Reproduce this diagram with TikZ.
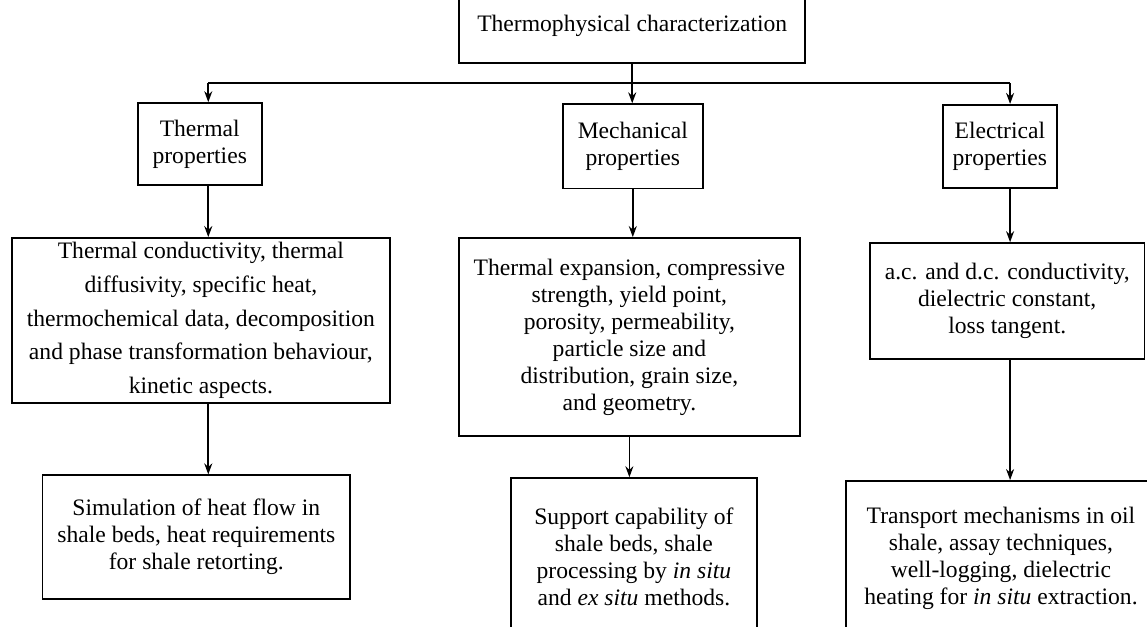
\documentclass[tikz,border=0pt]{standalone}
\usepackage{fontspec}
\setmainfont{Liberation Serif}
\usepackage{tikz}
\usetikzlibrary{arrows.meta, calc}
\tikzset{
  box/.style   = {rectangle, draw, line width=0.8pt, align=center, inner sep=2pt,
                  font=\fontsize{11.8}{13.5}\selectfont},
  boxW/.style  = {box, font=\fontsize{11.8}{16.85}\selectfont},
  arrow/.style = {line width=0.8pt, -{Stealth[length=5.5pt, width=4pt]}},
}

\begin{document}
\begin{tikzpicture}

    %% Frame of the page
    \useasboundingbox (0,0) rectangle (20.156,-11.001);
    \clip (0,0) rectangle (20.156,-11.001);

    %% Top box (its upper edge is cut off)
    \node[box, draw=none, minimum width=6.05cm, minimum height=1.27cm] (top) at (11.11,-0.46) {Thermophysical characterization};
    \draw[line width=0.8pt] (top.north west) -- (top.south west) -- (top.south east) -- (top.north east);

    %% Property boxes
    \node[box, minimum width=2.18cm, minimum height=1.44cm] (therm) at ( 3.51,-2.53) {Thermal\\properties};
    \node[box, minimum width=2.46cm, minimum height=1.48cm] (mech)  at (11.12,-2.57) {Mechanical\\properties};
    \node[box, minimum width=2.00cm, minimum height=1.46cm] (elec)  at (17.57,-2.57) {Electrical\\properties};

    %% What is measured
    \node[boxW, minimum width=6.64cm, minimum height=2.90cm] (thermd) at ( 3.53,-5.63)
        {Thermal conductivity, thermal\\diffusivity, specific heat,\\thermochemical data, decomposition\\and phase transformation behaviour,\\kinetic aspects.};
    \node[box, minimum width=5.99cm, minimum height=3.48cm] (mechd) at (11.06,-5.92)
        {Thermal expansion, compressive\\strength, yield point,\\porosity, permeability,\\particle size and\\distribution, grain size,\\and geometry.};
    \node[box, minimum width=4.83cm, minimum height=2.04cm] (elecd) at (17.70,-5.29)
        {a.c. and d.c. conductivity,\\dielectric constant,\\loss tangent.};

    %% Applications
    \node[box, minimum width=5.40cm, minimum height=2.18cm] (sim) at ( 3.45,-9.44)
        {Simulation of heat flow in\\shale beds, heat requirements\\for shale retorting.};
    \node[box, minimum width=4.32cm, minimum height=2.76cm] (supp) at (11.14,-9.78)
        {Support capability of\\shale beds, shale\\processing by \textit{in situ}\\and \textit{ex situ} methods.};
    \node[box, minimum width=5.45cm, minimum height=2.72cm] (transp) at (17.59,-9.81)
        {Transport mechanisms in oil\\shale, assay techniques,\\well-logging, dielectric\\heating for \textit{in situ} extraction.};

    %% Distribution line
    \coordinate (busL) at ( 3.66,-1.46);
    \coordinate (busR) at (17.75,-1.46);
    \draw[line width=0.8pt] (busL) -- (busR);

    %% Arrows
    \draw[arrow] (top) -- (top |- mech.north);
    \draw[arrow] (busL) -- (busL |- therm.north);
    \draw[arrow] (busR) -- (busR |- elec.north);
    \draw[arrow] (therm.south -| busL) -- (busL |- thermd.north);
    \draw[arrow] (thermd.south -| busL) -- (busL |- sim.north);
    \draw[arrow] (mech) -- (mech |- mechd.north);
    \draw[arrow] (mechd) -- (mechd |- supp.north);
    \draw[arrow] (elec.south -| busR) -- (busR |- elecd.north);
    \draw[arrow] (elecd.south -| busR) -- (busR |- transp.north);

  \end{tikzpicture}
\end{document}
